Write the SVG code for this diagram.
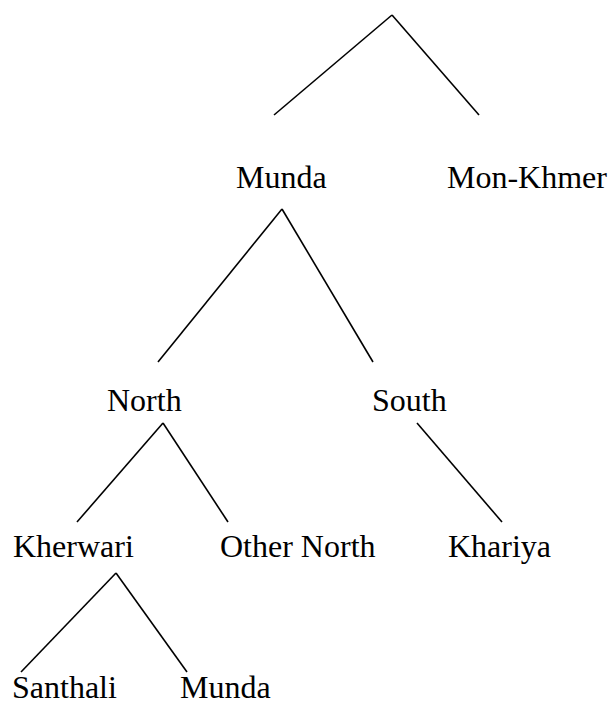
<svg xmlns="http://www.w3.org/2000/svg" width="609" height="706" viewBox="0 0 609 706">
<style>
.t text{font-size:32px;fill:#000}
.c line{stroke:#000;stroke-width:1.6;fill:none}
</style>
<rect width="609" height="706" fill="#fff"/>
<g class="c" id="connectors">
<line x1="392" y1="15" x2="274" y2="115"/>
<line x1="392" y1="15" x2="479" y2="115"/>
<line x1="282" y1="209" x2="158" y2="362"/>
<line x1="282" y1="209" x2="373" y2="362"/>
<line x1="163" y1="423" x2="77" y2="522"/>
<line x1="163" y1="423" x2="228" y2="522"/>
<line x1="417" y1="423" x2="502" y2="522"/>
<line x1="116" y1="573" x2="21" y2="672"/>
<line x1="116" y1="573" x2="187" y2="672"/>
</g>
<g class="t" font-family="Liberation Serif, Times New Roman, serif">
<g id="munda1"><text x="236" y="188">Munda</text></g>
<g id="monkhmer"><text x="447" y="188">Mon-Khmer</text></g>
<g id="north"><text x="107" y="411">North</text></g>
<g id="south"><text x="372" y="411">South</text></g>
<g id="kherwari"><text x="13" y="557">Kherwari</text></g>
<g id="othernorth"><text x="220" y="557">Other North</text></g>
<g id="khariya"><text x="448" y="557">Khariya</text></g>
<g id="santhali"><text x="12" y="698">Santhali</text></g>
<g id="munda2"><text x="180" y="698">Munda</text></g>
</g>
</svg>
